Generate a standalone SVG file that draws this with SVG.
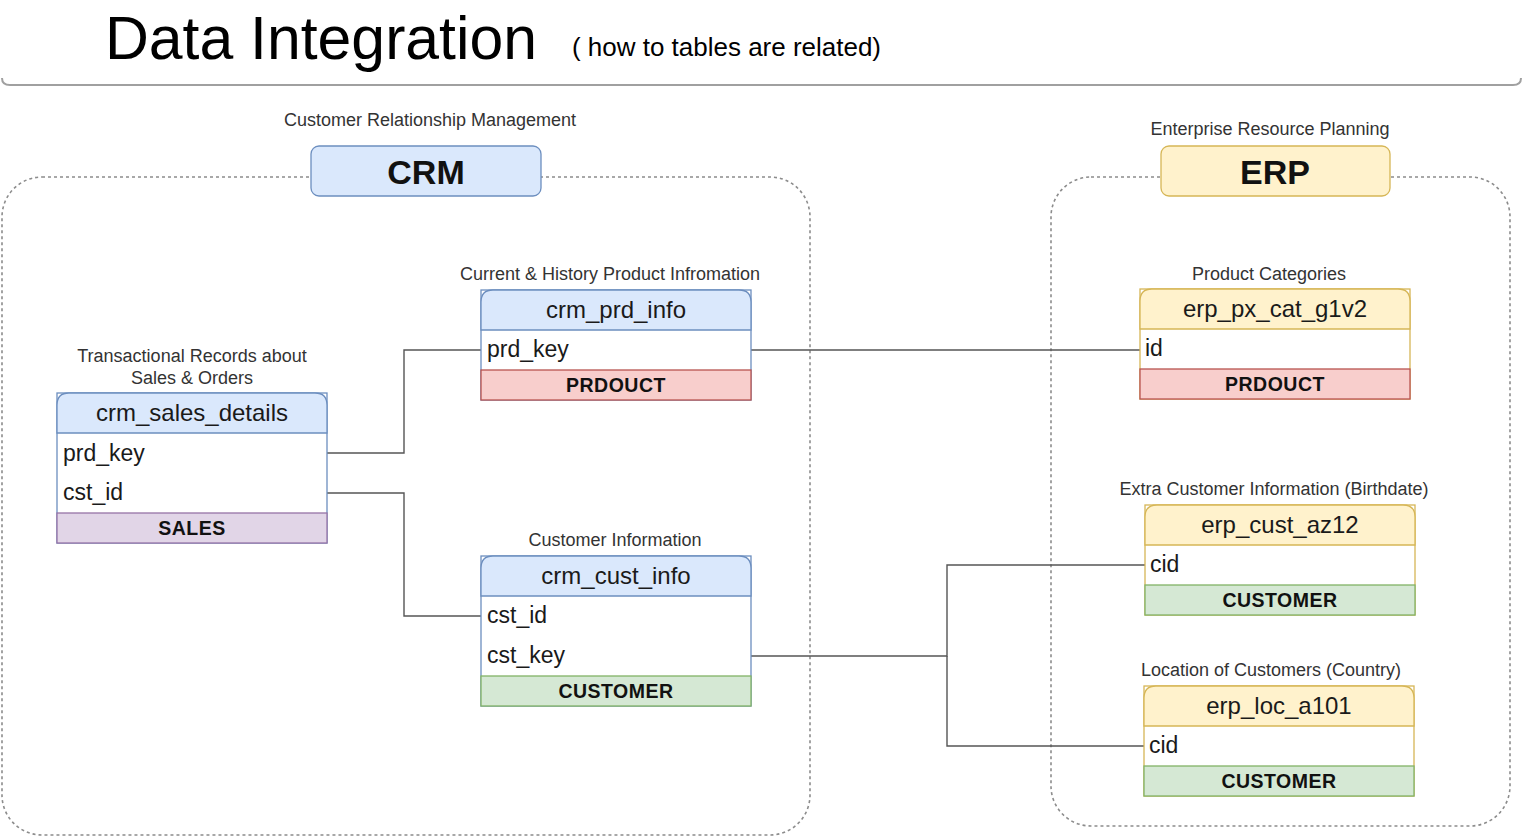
<svg xmlns="http://www.w3.org/2000/svg" width="1523" height="837" viewBox="0 0 1523 837">
<style>
text{font-family:"Liberation Sans",Arial,sans-serif;}
.lbl{font-size:18px;fill:#333;text-anchor:middle;}
.hd{font-size:24px;fill:#1a1a1a;text-anchor:middle;}
.row{font-size:23px;fill:#1a1a1a;}
.ft{font-size:19.5px;font-weight:bold;fill:#111;text-anchor:middle;letter-spacing:0.5px;}
.grp{fill:none;stroke:#8c8c8c;stroke-width:1.6;stroke-dasharray:3 3;}
.blueH{fill:#dae8fc;stroke:#6c8ebf;stroke-width:1.3;}
.blueB{fill:#fff;stroke:#6c8ebf;stroke-width:1.3;}
.yelH{fill:#fff2cc;stroke:#d6b656;stroke-width:1.3;}
.yelB{fill:#fff;stroke:#d6b656;stroke-width:1.3;}
.red{fill:#f8cecc;stroke:#b85450;stroke-width:1.3;}
.green{fill:#d5e8d4;stroke:#82b366;stroke-width:1.3;}
.purple{fill:#e1d5e7;stroke:#9673a6;stroke-width:1.3;}
.conn{fill:none;stroke:#555;stroke-width:1.4;}
.big{font-size:34px;font-weight:bold;fill:#111;text-anchor:middle;}
</style>

<g id="title">
<path d="M2,78 Q2,85 10,85 H1513 Q1521,85 1521,78" fill="none" stroke="#a0a0a0" stroke-width="2"/>
<text x="105" y="59" font-size="62" fill="#000" textLength="432" lengthAdjust="spacingAndGlyphs">Data Integration</text>
<text x="572" y="56" font-size="25" fill="#000" textLength="309" lengthAdjust="spacingAndGlyphs">( how to tables are related)</text>
</g>

<g id="crm-group">
<rect class="grp" x="2" y="177" width="808" height="658" rx="40"/>
</g>
<g id="erp-group">
<rect class="grp" x="1051" y="177" width="459" height="649" rx="40"/>
</g>

<g id="crm-header">
<text class="lbl" x="430" y="126">Customer Relationship Management</text>
<rect x="311" y="146" width="230" height="50" rx="8" class="blueH"/>
<text class="big" x="426" y="184">CRM</text>
</g>

<g id="erp-header">
<text class="lbl" x="1270" y="135">Enterprise Resource Planning</text>
<rect x="1161" y="146" width="229" height="50" rx="8" class="yelH"/>
<text class="big" x="1275" y="184">ERP</text>
</g>

<g id="connectors">
<path class="conn" d="M327,453 H404 V350 H481"/>
<path class="conn" d="M327,493 H404 V616 H481"/>
<path class="conn" d="M751,350 H1140"/>
<path class="conn" d="M751,656 H947 V565 H1145"/>
<path class="conn" d="M947,656 V746 H1144"/>
</g>

<g id="crm_sales_details">
<text class="lbl" x="192" y="362">Transactional Records about</text>
<text class="lbl" x="192" y="384">Sales &amp; Orders</text>
<rect class="blueB" x="57" y="393" width="270" height="150"/>
<path class="blueH" d="M57,433 V405 Q57,393 69,393 H315 Q327,393 327,405 V433 Z"/>
<text class="hd" x="192" y="421">crm_sales_details</text>
<text class="row" x="63" y="461">prd_key</text>
<text class="row" x="63" y="500">cst_id</text>
<rect class="purple" x="57" y="513" width="270" height="30"/>
<text class="ft" x="192" y="535">SALES</text>
</g>

<g id="crm_prd_info">
<text class="lbl" x="610" y="280">Current &amp; History Product Infromation</text>
<rect class="blueB" x="481" y="290" width="270" height="110"/>
<path class="blueH" d="M481,330 V302 Q481,290 493,290 H739 Q751,290 751,302 V330 Z"/>
<text class="hd" x="616" y="318">crm_prd_info</text>
<text class="row" x="487" y="357">prd_key</text>
<rect class="red" x="481" y="370" width="270" height="30"/>
<text class="ft" x="616" y="392">PRDOUCT</text>
</g>

<g id="crm_cust_info">
<text class="lbl" x="615" y="546">Customer Information</text>
<rect class="blueB" x="481" y="556" width="270" height="150"/>
<path class="blueH" d="M481,596 V568 Q481,556 493,556 H739 Q751,556 751,568 V596 Z"/>
<text class="hd" x="616" y="584">crm_cust_info</text>
<text class="row" x="487" y="623">cst_id</text>
<text class="row" x="487" y="663">cst_key</text>
<rect class="green" x="481" y="676" width="270" height="30"/>
<text class="ft" x="616" y="698">CUSTOMER</text>
</g>

<g id="erp_px_cat_g1v2">
<text class="lbl" x="1269" y="280">Product Categories</text>
<rect class="yelB" x="1140" y="289" width="270" height="110"/>
<path class="yelH" d="M1140,329 V301 Q1140,289 1152,289 H1398 Q1410,289 1410,301 V329 Z"/>
<text class="hd" x="1275" y="317">erp_px_cat_g1v2</text>
<text class="row" x="1145" y="356">id</text>
<rect class="red" x="1140" y="369" width="270" height="30"/>
<text class="ft" x="1275" y="391">PRDOUCT</text>
</g>

<g id="erp_cust_az12">
<text class="lbl" x="1274" y="495">Extra Customer Information (Birthdate)</text>
<rect class="yelB" x="1145" y="505" width="270" height="110"/>
<path class="yelH" d="M1145,545 V517 Q1145,505 1157,505 H1403 Q1415,505 1415,517 V545 Z"/>
<text class="hd" x="1280" y="533">erp_cust_az12</text>
<text class="row" x="1150" y="572">cid</text>
<rect class="green" x="1145" y="585" width="270" height="30"/>
<text class="ft" x="1280" y="607">CUSTOMER</text>
</g>

<g id="erp_loc_a101">
<text class="lbl" x="1271" y="676">Location of Customers (Country)</text>
<rect class="yelB" x="1144" y="686" width="270" height="110"/>
<path class="yelH" d="M1144,726 V698 Q1144,686 1156,686 H1402 Q1414,686 1414,698 V726 Z"/>
<text class="hd" x="1279" y="714">erp_loc_a101</text>
<text class="row" x="1149" y="753">cid</text>
<rect class="green" x="1144" y="766" width="270" height="30"/>
<text class="ft" x="1279" y="788">CUSTOMER</text>
</g>
</svg>
